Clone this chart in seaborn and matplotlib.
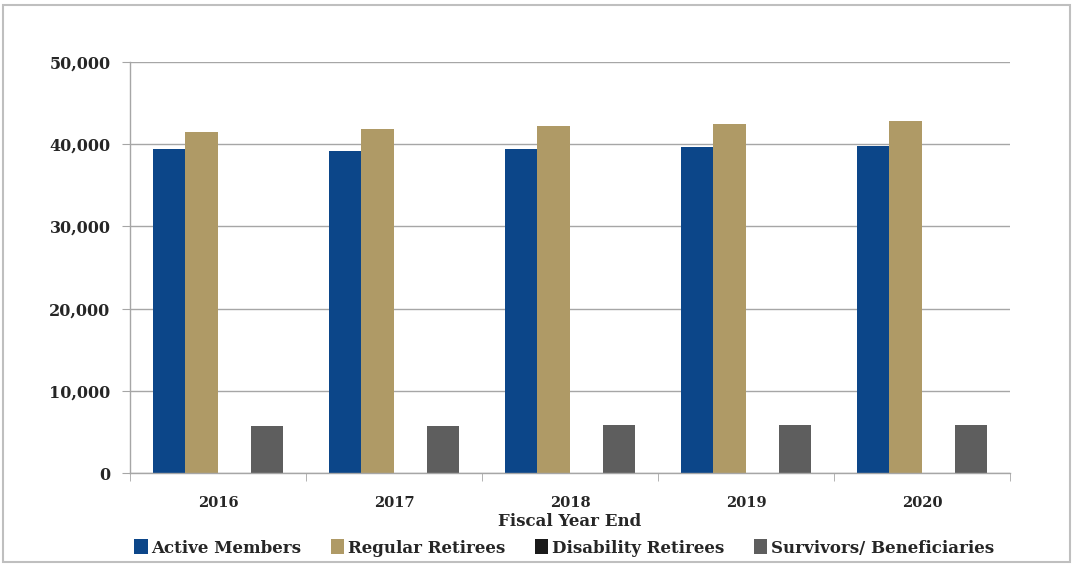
import matplotlib
matplotlib.use("Agg")
import matplotlib.pyplot as plt
from matplotlib.patches import Rectangle
from matplotlib.ticker import FuncFormatter, FixedLocator
import seaborn as sns
import pandas as pd

# Membership counts by fiscal year end
years = ["2016", "2017", "2018", "2019", "2020"]
active_members = [39400, 39200, 39400, 39650, 39800]
regular_retirees = [41450, 41850, 42200, 42450, 42850]
disability_retirees = [40, 40, 40, 40, 40]
survivors_beneficiaries = [5700, 5700, 5800, 5850, 5900]

series_names = ["Active Members", "Regular Retirees", "Disability Retirees",
                "Survivors/ Beneficiaries"]
series_values = [active_members, regular_retirees, disability_retirees,
                 survivors_beneficiaries]
colors = ["#0C4689", "#AF9A66", "#1A1A1A", "#5E5E5E"]

rows = []
for name, vals in zip(series_names, series_values):
    for y, v in zip(years, vals):
        rows.append({"Year": y, "Group": name, "Count": v})
df = pd.DataFrame(rows)

sns.set_style("white")
plt.rcParams["font.family"] = ["DejaVu Serif"]
plt.rcParams["font.weight"] = "bold"

W, H = 1073, 564
fig = plt.figure(figsize=(W / 100, H / 100), dpi=100)
ax = fig.add_axes([130 / W, 1 - 473 / H, 880 / W, 411 / H])

# outer frame around the whole chart
fig.patches.append(Rectangle((3 / W, 2 / H), 1067 / W, 557 / H,
                             transform=fig.transFigure, fill=False,
                             edgecolor="#BFBFBF", linewidth=1.5))

sns.barplot(data=df, x="Year", y="Count", hue="Group", order=years,
            hue_order=series_names, palette=colors, width=0.74,
            saturation=1, ax=ax, legend=True, edgecolor="none")

ax.set_ylim(0, 50000)
ax.set_xlim(-0.5, len(years) - 0.5)
ax.yaxis.set_major_locator(FixedLocator(range(0, 50001, 10000)))
ax.yaxis.set_major_formatter(FuncFormatter(lambda v, p: f"{int(v):,}"))
ax.grid(axis="y", color="#A6A6A6", linewidth=1)
ax.set_axisbelow(True)

for side in ["top", "right"]:
    ax.spines[side].set_visible(False)
for side in ["left", "bottom"]:
    ax.spines[side].set_color("#A6A6A6")
    ax.spines[side].set_linewidth(1)

ax.tick_params(axis="y", left=True, length=6, color="#A6A6A6",
               labelsize=11.5, pad=8)
ax.tick_params(axis="x", bottom=False, labelsize=10.5, pad=13)
ax.set_xticks(range(len(years)))
ax.set_xticks([i + 0.5 for i in range(-1, len(years))], minor=True)
ax.tick_params(axis="x", which="minor", bottom=True, length=6,
               color="#A6A6A6")
for lab in ax.get_xticklabels() + ax.get_yticklabels():
    lab.set_fontweight("bold")

ax.set_ylabel("")
ax.set_xlabel("Fiscal Year End", fontsize=12, fontweight="bold",
              labelpad=2)

handles, labels = ax.get_legend_handles_labels()
ax.get_legend().remove()
fig.legend(handles, labels, loc="center", ncol=4, frameon=False,
           bbox_to_anchor=(564 / W, 1 - 548 / H),
           prop={"size": 12, "weight": "bold"},
           handlelength=0.8, handleheight=1.0, handletextpad=0.2,
           columnspacing=1.8)

fig.savefig("out.png", dpi=100)
